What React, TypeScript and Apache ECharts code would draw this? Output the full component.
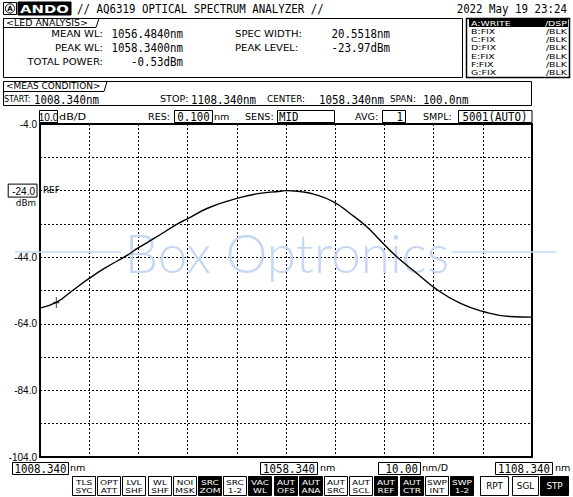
import React, { useEffect, useRef } from "react";
import * as echarts from "echarts";

// ---- trace data ----
const wavelengthsNm = [1008.34, 1011.65, 1014.7, 1018.4, 1021.5, 1026.2, 1028.2, 1031.6, 1036.3, 1038.4, 1042.4, 1047.3, 1052.3, 1057.3, 1058.34, 1061.2, 1063.8, 1067.9, 1071.3, 1074.7, 1077.4, 1080.8, 1084.9, 1088.9, 1093.7, 1098.4, 1103.8, 1108.34];
const levelsDbm = [-59.3, -57.6, -54.3, -50.3, -47.3, -43.3, -41.3, -38.3, -34.0, -32.4, -29.3, -26.8, -25.0, -24.2, -24.0, -24.3, -25.0, -27.3, -30.8, -34.8, -38.8, -43.8, -48.8, -53.6, -57.8, -60.3, -61.8, -62.0];
const markerPoint = [1011.65, -57.6];

// ---- axis settings ----
const xMin = 1008.34;
const xMax = 1108.34;
const xStep = 10;
const yMin = -104;
const yMax = -4;
const yStep = 10;
const refLevel = -24;

// ---- panel texts ----
const ledLabels = ["MEAN WL:", "PEAK WL:", "TOTAL POWER:"];
const ledValues = ["1056.4840nm", "1058.3400nm", "-0.53dBm"];
const ledLabels2 = ["SPEC WIDTH:", "PEAK LEVEL:"];
const ledValues2 = ["20.5518nm", "-23.97dBm"];
const traceNames = ["A:WRITE", "B:FIX", "C:FIX", "D:FIX", "E:FIX", "F:FIX", "G:FIX"];
const traceModes = ["/DSP", "/BLK", "/BLK", "/BLK", "/BLK", "/BLK", "/BLK"];
const softKeys: [string, string, number][] = [
  ["TLS", "SYC", 0], ["OPT", "ATT", 0], ["LVL", "SHF", 0], ["WL", "SHF", 0], ["NOI", "MSK", 0],
  ["SRC", "ZOM", 1], ["SRC", "1-2", 0], ["VAC", "WL", 1], ["AUT", "OFS", 1], ["AUT", "ANA", 1],
  ["AUT", "SRC", 0], ["AUT", "SCL", 0], ["AUT", "REF", 1], ["AUT", "CTR", 1], ["SWP", "INT", 0], ["SWP", "1-2", 1],
];
const runKeys: [string, number][] = [["RPT", 0], ["SGL", 0], ["STP", 1]];

const MONO = '"DejaVu Sans Mono", monospace';
const SANS = '"DejaVu Sans", sans-serif';
const NUM = '"Liberation Sans", Arial, sans-serif';

function txt(x: number, y: number, text: string, o: any = {}) {
  const align = o.align ?? "left";
  return {
    type: "text",
    x,
    y,
    scaleX: o.sx ?? 1,
    scaleY: o.sy ?? 1,
    z: o.z ?? 20,
    silent: true,
    style: {
      text,
      fill: o.fill ?? "#000",
      fontFamily: o.family ?? SANS,
      fontSize: o.size ?? 9,
      fontWeight: o.weight ?? "normal",
      align,
      textAlign: align,
      verticalAlign: "middle",
      textVerticalAlign: "middle",
    },
  };
}
const lbl = (x: number, y: number, t: string, o: any = {}) => txt(x, y, t, { size: 9, sx: 1.12, ...o });
const val = (x: number, y: number, t: string, o: any = {}) => txt(x, y, t, { family: MONO, size: 13, sx: 0.83, ...o });
const small = (x: number, y: number, t: string, o: any = {}) => txt(x, y, t, { size: 8, sx: 1.15, ...o });

function rect(x: number, y: number, w: number, h: number, o: any = {}) {
  return {
    type: "rect",
    z: o.z ?? 15,
    silent: true,
    shape: { x, y, width: w, height: h },
    style: { fill: o.fill ?? "none", stroke: o.stroke ?? "#000", lineWidth: o.lw ?? 1 },
  };
}
function pline(points: number[][], o: any = {}) {
  return {
    type: "polyline",
    z: o.z ?? 15,
    silent: true,
    shape: { points },
    style: { fill: "none", stroke: o.stroke ?? "#000", lineWidth: o.lw ?? 1 },
  };
}

function buildGraphic() {
  const g: any[] = [];
  // logo
  g.push(rect(3.5, 2.5, 13, 12));
  g.push({ type: "circle", z: 16, silent: true, shape: { cx: 10, cy: 8.5, r: 4.6 }, style: { fill: "none", stroke: "#000", lineWidth: 1 } });
  g.push(txt(10, 9, "A", { size: 7, weight: "bold", align: "center" }));
  g.push(rect(18, 2, 53, 13, { fill: "#000", stroke: "#000" }));
  g.push(txt(44.5, 8.8, "ANDO", { size: 11, weight: "bold", sx: 1.35, fill: "#fff", align: "center" }));
  // title & date
  g.push(val(77, 9, "// AQ6319 OPTICAL SPECTRUM ANALYZER //"));
  g.push(val(567, 9, "2022 May 19 23:24", { align: "right" }));

  // LED analysis box
  g.push(rect(3.5, 18.5, 459, 59));
  g.push(pline([[3.5, 27.5], [96, 27.5], [99, 18.5]]));
  g.push(lbl(6, 23, "<LED ANALYSIS>", { sx: 1.05 }));
  const rows = [33.5, 47.5, 61.5];
  ledLabels.forEach((t, i) => g.push(lbl(103, rows[i], t, { align: "right" })));
  ledValues.forEach((t, i) => g.push(val(183, rows[i], t, { align: "right" })));
  ledLabels2.forEach((t, i) => g.push(lbl(235, rows[i], t)));
  ledValues2.forEach((t, i) => g.push(val(390, rows[i], t, { align: "right" })));

  // trace list box
  g.push(rect(466.5, 18.5, 103, 59, { lw: 1.5 }));
  g.push(rect(469, 19, 99, 8, { fill: "#000", stroke: "#000", lw: 0 }));
  traceNames.forEach((t, i) => {
    const y = 23 + i * 8.3;
    const fill = i === 0 ? "#fff" : "#000";
    g.push(small(471, y, t, { fill, size: 7, sx: 1.35 }));
    g.push(small(567, y, traceModes[i], { fill, align: "right", size: 7, sx: 1.35 }));
  });

  // meas condition box
  g.push(rect(3.5, 81.5, 528, 24));
  g.push(pline([[3.5, 91.5], [104, 91.5], [107, 81.5]]));
  g.push(lbl(6, 86.5, "<MEAS CONDITION>", { size: 8, sx: 1.12 }));
  g.push(small(4, 99.5, "START:", { sx: 1.0 }));
  g.push(val(34, 99.5, "1008.340nm"));
  g.push(small(160, 99.5, "STOP:", { sx: 1.2 }));
  g.push(val(191, 99.5, "1108.340nm"));
  g.push(small(267, 99.5, "CENTER:", { sx: 1.1 }));
  g.push(val(319, 99.5, "1058.340nm"));
  g.push(small(390, 99.5, "SPAN:", { sx: 1.1 }));
  g.push(val(423, 99.5, "100.0nm"));

  // plot header row
  const hy = 117;
  g.push(rect(39.5, 110.5, 18, 12));
  g.push(txt(48.5, hy, "10.0", { family: NUM, size: 10, align: "center" }));
  g.push(lbl(59, hy, "dB/D", { sx: 1.25 }));
  g.push(small(148, hy, "RES:", { sx: 1.2 }));
  g.push(rect(174.5, 110.5, 38, 12));
  g.push(val(193.5, hy, "0.100", { align: "center" }));
  g.push(small(214, hy, "nm", { sx: 1.2 }));
  g.push(small(245, hy, "SENS:", { sx: 1.2 }));
  g.push(rect(277.5, 110.5, 57, 12));
  g.push(val(279, hy, "MID"));
  g.push(small(355, hy, "AVG:", { sx: 1.2 }));
  g.push(rect(382.5, 110.5, 23, 12));
  g.push(val(403, hy, "1", { align: "right" }));
  g.push(small(423, hy, "SMPL:", { sx: 1.2 }));
  g.push(rect(458.5, 110.5, 73.5, 12));
  g.push(val(495, hy, "5001(AUTO)", { align: "center" }));

  // ref annotation
  g.push(small(43, 190.5, "REF", { sx: 1.1 }));
  g.push(small(36, 203, "dBm", { sx: 1.1, align: "right" }));

  // bottom scale row
  const by = 468.5;
  g.push(rect(12.5, 462.5, 56, 12));
  g.push(val(40.5, by, "1008.340", { align: "center" }));
  g.push(small(70, by, "nm", { sx: 1.2 }));
  g.push(rect(260.5, 462.5, 57, 12));
  g.push(val(289, by, "1058.340", { align: "center" }));
  g.push(small(320, by, "nm", { sx: 1.2 }));
  g.push(rect(378.5, 462.5, 42, 12));
  g.push(val(418, by, "10.00", { align: "right" }));
  g.push(small(422, by, "nm/D", { sx: 1.2 }));
  g.push(rect(495.5, 462.5, 57, 12));
  g.push(val(524, by, "1108.340", { align: "center" }));
  g.push(small(555, by, "nm", { sx: 1.2 }));

  // soft keys
  softKeys.forEach(([a, b, inv], i) => {
    const x = 72 + i * 25.2;
    const fill = inv ? "#000" : "#fff";
    const tf = inv ? "#fff" : "#000";
    g.push(rect(Math.round(x) + 0.5, 476.5, 23, 19, { fill, stroke: "#000" }));
    g.push(small(Math.round(x) + 12, 482, a, { fill: tf, align: "center", size: 7.5, sx: 1.2 }));
    g.push(small(Math.round(x) + 12, 490.5, b, { fill: tf, align: "center", size: 7.5, sx: 1.2 }));
  });
  const runX = [480, 512, 540];
  const runW = [28, 26, 28];
  runKeys.forEach(([t, inv], i) => {
    const fill = inv ? "#000" : "#fff";
    const tf = inv ? "#fff" : "#000";
    g.push(rect(runX[i] + 0.5, 476.5, runW[i], 19, { fill, stroke: "#000" }));
    g.push(small(runX[i] + runW[i] / 2 + 0.5, 486.5, t, { fill: tf, align: "center", sx: 1.1 }));
  });

  // watermark
  const wm = "#c6d7f3";
  g.push(pline([[15, 252], [121, 252]], { stroke: wm, lw: 1.5, z: 1 }));
  g.push(pline([[452, 252], [556, 252]], { stroke: wm, lw: 1.5, z: 1 }));
  g.push({
    type: "text", x: 287, y: 252, z: 1, silent: true,
    style: { text: "Box Optronics", fill: wm, fontFamily: "Lato, sans-serif", fontWeight: 300, fontSize: 53, align: "center", textAlign: "center", verticalAlign: "middle", textVerticalAlign: "middle" },
  });
  return g;
}

function buildOption() {
  const grid = { color: "#000", type: [2, 2], width: 1 };
  return {
    animation: false,
    backgroundColor: "#fff",
    grid: { left: 40, top: 124, width: 492, height: 333, show: true, borderColor: "#000", borderWidth: 2, backgroundColor: "transparent", containLabel: false },
    xAxis: {
      type: "value", min: xMin, max: xMax, interval: xStep,
      axisLine: { show: false }, axisTick: { show: false }, axisLabel: { show: false },
      splitLine: { show: true, lineStyle: grid },
    },
    yAxis: {
      type: "value", min: yMin, max: yMax, interval: yStep,
      axisLine: { show: false }, axisTick: { show: false },
      splitLine: { show: true, lineStyle: grid },
      axisLabel: {
        show: true, margin: 3, showMinLabel: true, showMaxLabel: true,
        fontFamily: NUM, fontSize: 10, color: "#000",
        formatter: (v: number) => {
          const r = Math.round(v);
          if (r === refLevel) return "{box|" + r.toFixed(1) + "}";
          if ((r - yMax) % 20 === 0) return r.toFixed(1);
          return "";
        },
        rich: {
          box: { fontFamily: NUM, fontSize: 10, color: "#000", borderColor: "#000", borderWidth: 1, padding: [2, 2, 1, 4] },
        },
      },
    },
    series: [
      {
        type: "line",
        data: wavelengthsNm.map((w, i) => [w, levelsDbm[i]]),
        showSymbol: false,
        smooth: 0.5,
        lineStyle: { color: "#000", width: 1.4 },
        z: 5,
      },
      {
        type: "scatter",
        data: [markerPoint],
        symbol: "path://M4,0 L4,12 M1,6 L7,6",
        symbolSize: [6, 11],
        itemStyle: { color: "#000", borderColor: "#000", borderWidth: 1.2 },
        z: 6,
      },
    ],
    graphic: buildGraphic(),
  };
}

export default function App() {
  const ref = useRef<HTMLDivElement>(null);
  useEffect(() => {
    const chart = echarts.init(ref.current!, null, { renderer: "svg" });
    chart.setOption(buildOption() as any);
    return () => chart.dispose();
  }, []);
  return (
    <div style={{ position: "fixed", left: 0, top: 0, width: 573, height: 497, background: "#fff" }}>
      <div ref={ref} style={{ width: 573, height: 497 }} />
    </div>
  );
}
